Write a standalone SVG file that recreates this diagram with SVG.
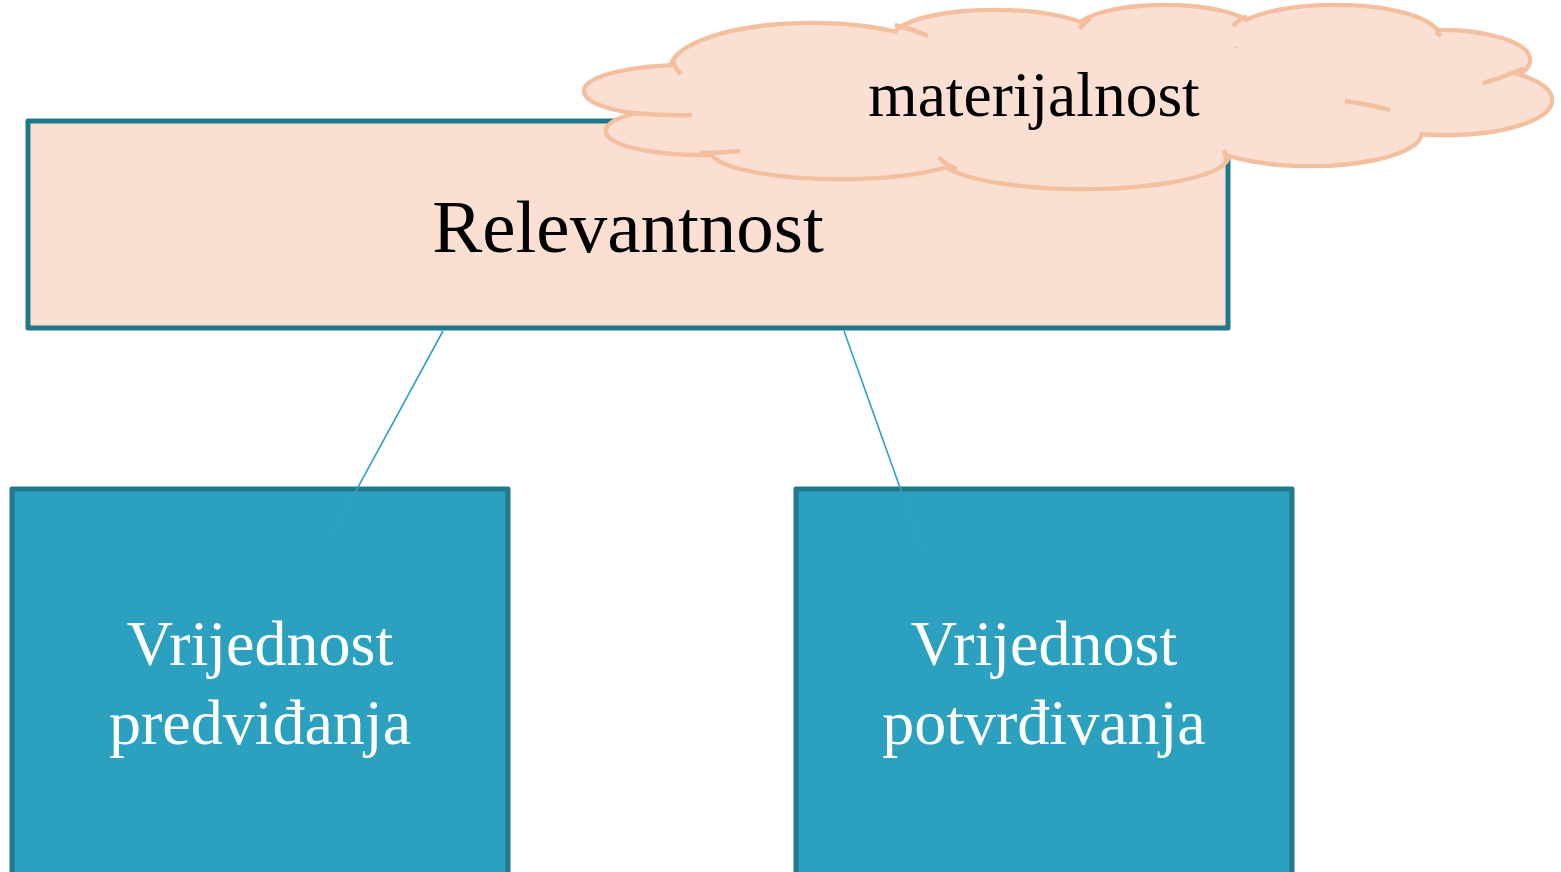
<svg xmlns="http://www.w3.org/2000/svg" width="1561" height="872" viewBox="0 0 1561 872">
<style>
.box{stroke:#1F788C;stroke-width:5;stroke-linejoin:round}
.top{fill:#FADFD2}
.low{fill:#2CA1BF}
.t{font-family:"Liberation Serif","Times New Roman",serif;text-anchor:middle}
.lobe-s{fill:none;stroke:#F4BF9E;stroke-width:8.5}
.lobe-f{fill:#FADFD2;stroke:none}
.curl{fill:none;stroke:#F4BF9E;stroke-width:4.5;stroke-linecap:butt}
.conn{stroke:#2AA3C5;stroke-width:1.6;fill:none}
</style>
<rect width="1561" height="872" fill="#FFFFFF"/>
<g id="node-relevantnost">
<rect class="box top" x="28" y="121" width="1200" height="207"/>
<text class="t" x="628" y="252" font-size="75" fill="#000000">Relevantnost</text>
</g>
<g id="node-predvidjanja">
<rect class="box low" x="12" y="489" width="496" height="400"/>
<text class="t" x="260" y="665" font-size="64" fill="#FFFFFF">Vrijednost</text>
<text class="t" x="260" y="744" font-size="64" fill="#FFFFFF">predviđanja</text>
</g>
<g id="node-potvrdjivanja">
<rect class="box low" x="796" y="489" width="496" height="400"/>
<text class="t" x="1044" y="665" font-size="64" fill="#FFFFFF">Vrijednost</text>
<text class="t" x="1044" y="744" font-size="64" fill="#FFFFFF">potvrđivanja</text>
</g>
<g id="connectors">
<line class="conn" x1="443" y1="331" x2="332" y2="535"/>
<line class="conn" x1="844" y1="331" x2="923" y2="552"/>
</g>
<g id="node-materijalnost">
<g class="lobe-s">
<ellipse cx="812" cy="70" rx="140" ry="45"/>
<ellipse cx="690" cy="91" rx="104" ry="24"/>
<ellipse cx="705" cy="131" rx="97" ry="22"/>
<ellipse cx="840" cy="150" rx="128" ry="27"/>
<ellipse cx="1083" cy="155" rx="144" ry="32"/>
<ellipse cx="1310" cy="132" rx="110" ry="32"/>
<ellipse cx="1445" cy="100" rx="105" ry="33"/>
<ellipse cx="1440" cy="60" rx="88" ry="28"/>
<ellipse cx="1335" cy="38" rx="103" ry="31"/>
<ellipse cx="1165" cy="32" rx="88" ry="25"/>
<ellipse cx="995" cy="38" rx="100" ry="26"/>
</g>
<g class="lobe-f">
<ellipse cx="812" cy="70" rx="140" ry="45"/>
<ellipse cx="690" cy="91" rx="104" ry="24"/>
<ellipse cx="705" cy="131" rx="97" ry="22"/>
<ellipse cx="840" cy="150" rx="128" ry="27"/>
<ellipse cx="1083" cy="155" rx="144" ry="32"/>
<ellipse cx="1310" cy="132" rx="110" ry="32"/>
<ellipse cx="1445" cy="100" rx="105" ry="33"/>
<ellipse cx="1440" cy="60" rx="88" ry="28"/>
<ellipse cx="1335" cy="38" rx="103" ry="31"/>
<ellipse cx="1165" cy="32" rx="88" ry="25"/>
<ellipse cx="995" cy="38" rx="100" ry="26"/>
<ellipse cx="1060" cy="100" rx="330" ry="62"/>
<ellipse cx="1380" cy="85" rx="80" ry="32"/>
</g>
<g class="curl">
<path d="M625,112 Q660,116 692,115"/>
<path d="M700,153 Q720,153 740,151"/>
<path d="M939,157 Q944,164 957,169"/>
<path d="M1224,150 Q1226,156 1226,162"/>
<path d="M1345,101 Q1368,104 1390,110"/>
<path d="M1483,83 Q1505,77 1524,68"/>
<path d="M1233,26 Q1238,20 1247,16"/>
<path d="M1080,29 Q1083,23 1091,18"/>
<path d="M895,25 Q912,29 928,36"/>
<path d="M673,60 Q674,68 681,74"/>
<path d="M1436,32 Q1439,34 1441,36"/>
</g>
<text class="t" x="1034" y="116" font-size="63.5" fill="#000000">materijalnost</text>
</g>
</svg>
